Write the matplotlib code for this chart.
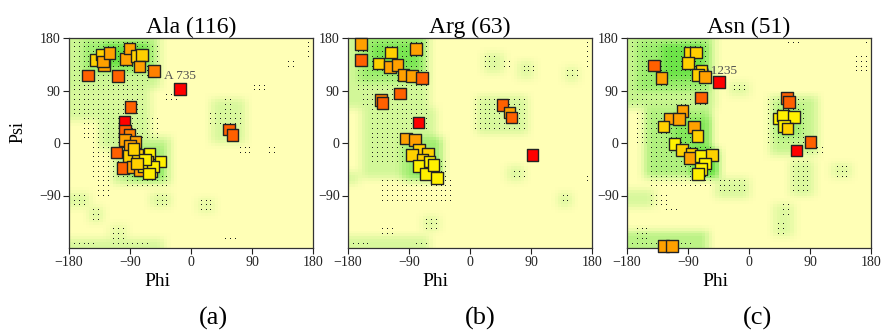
import numpy as np
import matplotlib.pyplot as plt
from matplotlib.colors import LinearSegmentedColormap

plt.rcParams['font.family'] = ['Liberation Serif', 'DejaVu Serif']

titles = ['Ala (116)', 'Arg (63)', 'Asn (51)']
captions = ['(a)', '(b)', '(c)']
ticks = [-180, -90, 0, 90, 180]

# colour codes of the squares
colours = {'y': '#FFF000', 'g': '#FFD000', 'o': '#FFA000', 'm': '#FF8000',
           'd': '#FF6000', 'r': '#FF0000'}

ala_phi = [-152, -141, -132, -128, -130, -120, -108, -96, -91, -80, -72, -76, -55, -16,
           -89, -98, -97, -91, -97, -82, -90, -110, -92, -79, -85, -61, -45, -100, -86,
           -75, -58, -65, -70, -56, -68, -62, -80, 56, 61]
ala_psi = [116, 142, 152, 133, 140, 154, 115, 144, 162, 149, 151, 131, 123, 93,
           62, 37, 21, 14, 5, 2, -5, -16, -22, -21, -10, -18, -32, -43, -41,
           -46, -49, -32, -40, -40, -28, -52, -35, 23, 14]
ala_col = ['d', 'g', 'g', 'o', 'o', 'o', 'd', 'o', 'o', 'g', 'g', 'o', 'm', 'r',
           'd', 'r', 'd', 'm', 'o', 'o', 'o', 'd', 'g', 'g', 'g', 'y', 'y', 'd', 'o',
           'o', 'y', 'g', 'y', 'y', 'y', 'y', 'g', 'd', 'd']

arg_phi = [-161, -161, -135, -117, -118, -107, -98, -86, -80, -71, -103, -131, -129, -76,
           -94, -81, -75, -86, -62, -70, -60, -76, -65, -49, -54, 48, 58, 61, 92]
arg_psi = [170, 142, 136, 155, 130, 134, 117, 115, 161, 111, 85, 74, 69, 35,
           8, 5, -11, -21, -18, -28, -32, -39, -53, -60, -38, 65, 52, 44, -21]
arg_col = ['o', 'd', 'g', 'g', 'o', 'o', 'o', 'o', 'o', 'd', 'd', 'm', 'd', 'r',
           'o', 'o', 'g', 'g', 'g', 'g', 'y', 'y', 'y', 'y', 'y', 'd', 'o', 'd', 'r']

asn_phi = [-140, -129, -88, -78, -90, -70, -75, -65, -44, -71, -98, -117, -103, -126,
           -81, -76, -110, -99, -85, -87, -71, -55, -65, -71, -75, -126, -114,
           56, 59, 44, 50, 66, 52, 57, 91, 70]
asn_psi = [133, 111, 155, 155, 137, 124, 117, 113, 105, 78, 55, 42, 41, 28,
           27, 12, -2, -12, -19, -26, -22, -21, -35, -45, -53, -177, -177,
           77, 70, 42, 47, 45, 29, 25, 2, -13]
asn_col = ['d', 'o', 'g', 'g', 'g', 'g', 'g', 'o', 'r', 'd', 'o', 'o', 'o', 'g',
           'o', 'g', 'y', 'g', 'g', 'o', 'y', 'g', 'y', 'y', 'y', 'o', 'o',
           'd', 'd', 'y', 'y', 'y', 'y', 'g', 'd', 'r']

labels = [('A 735', -40, 115), None, ('A1235', -70, 124)]

# green shading: phi0, phi1, psi0, psi1, level
ala_green = [(-178, -45, 95, 178, 1.2), (-160, -55, 118, 175, 2), (-130, -65, 130, 170, 3),
             (-178, -60, 40, 95, 1), (-135, -60, -10, 60, 1.1), (-115, -30, -70, 10, 1.3),
             (-95, -40, -65, -5, 2), (-80, -45, -60, -30, 3), (30, 80, 0, 75, 1),
             (-178, -40, -180, -165, 1), (-178, -150, -112, -85, 0.8),
             (-152, -128, -136, -110, 0.8), (-58, -30, -110, -85, 0.8),
             (10, 35, -122, -95, 0.6), (-120, -95, -168, -142, 0.6)]
arg_green = [(-178, -60, 60, 178, 1.1), (-165, -65, 105, 178, 2), (-145, -75, 125, 172, 2.7),
             (-160, -50, -60, 60, 1.1), (-100, -40, -65, 10, 2), (-80, -50, -55, -25, 3),
             (10, 85, 15, 78, 1), (-178, -60, -180, -160, 1), (-178, -165, -72, -50, 1),
             (128, 152, -110, -85, 0.8), (55, 82, -65, -40, 0.8), (18, 52, 120, 155, 0.8),
             (70, 95, 112, 138, 0.7), (138, 162, 104, 128, 0.7), (-72, -45, -152, -125, 0.7)]
asn_green = [(-178, -50, 60, 178, 1.3), (-165, -60, 90, 175, 2.1), (-130, -65, 110, 170, 2.9),
             (-155, -55, -60, 60, 1.7), (-115, -55, -10, 45, 2.5), (-85, -45, -60, -10, 3.2),
             (28, 100, -20, 78, 1.3), (40, 75, 10, 60, 2.1), (-178, -60, -180, -150, 1.5),
             (-178, -140, -112, -80, 1), (36, 64, -162, -104, 0.8), (58, 95, -92, -28, 0.9),
             (-52, 0, -95, -60, 0.9), (-30, 0, 82, 105, 0.7), (120, 148, -60, -36, 0.7)]

# dotted areas: phi0, phi1, psi0, psi1
ala_dots = [(-176, -60, 100, 176), (-176, -70, 45, 100), (-60, -45, 115, 165),
            (-160, -50, 5, 45), (-150, -100, -60, 5), (-100, -30, -75, -55),
            (-140, -118, -92, -40), (-176, -158, -110, -88), (-150, -130, -133, -113),
            (-118, -98, -167, -145), (-176, -140, -176, -168), (-118, -60, -176, -168),
            (-56, -34, -107, -88), (13, 30, -118, -97), (50, 70, -170, -162), (44, 58, 55, 78),
            (28, 72, 28, 50), (68, 88, -20, -3), (108, 126, -20, -3), (90, 110, 85, 102),
            (140, 158, 125, 142), (-38, -20, 68, 86), (170, 180, 140, 172)]
arg_dots = [(-172, -64, 90, 176), (-160, -64, 60, 90), (-150, -95, -40, 60), (-95, -64, 20, 60),
            (-133, -25, -103, -58), (-70, -48, -150, -128), (-134, -114, -164, -146),
            (-176, -150, -176, -168), (-84, -62, -176, -168), (-60, -30, -75, -30),
            (20, 40, 130, 152), (48, 62, 130, 140), (74, 94, 116, 135), (140, 160, 107, 126),
            (172, 178, 130, 172), (0, 85, 20, 74), (58, 80, -60, -42), (130, 150, -106, -88),
            (172, 178, -70, -50)]
asn_dots = [(-176, -58, 62, 176), (-166, -67, -6, 57), (-151, -53, -75, -6), (-48, -3, -90, -62),
            (-151, -117, -109, -83), (-124, -104, -123, -112), (-166, -146, -166, -146),
            (-176, -80, -176, -168), (51, 75, 165, 174), (28, 85, -5, 74), (85, 110, -23, -5),
            (60, 90, -90, -26), (124, 144, -58, -38), (46, 60, -126, -106), (36, 51, -160, -138),
            (-28, -3, 85, 102), (156, 176, 117, 150), (172, 178, 165, 176)]

panels = [(ala_phi, ala_psi, ala_col, ala_green, ala_dots),
          (arg_phi, arg_psi, arg_col, arg_green, arg_dots),
          (asn_phi, asn_psi, asn_col, asn_green, asn_dots)]

shade = LinearSegmentedColormap.from_list('rama', ['#FFFFB6', '#D8F89C', '#A2EE72', '#68E244'])


def greenField(regions):
    cells = np.arange(-177.5, 180, 5)
    gx, gy = np.meshgrid(cells, cells)
    field = np.zeros_like(gx)
    for p0, p1, s0, s1, level in regions:
        inside = (gx >= p0) & (gx <= p1) & (gy >= s0) & (gy <= s1)
        field = np.where(inside, np.maximum(field, level), field)
    for _ in range(2):
        pad = np.pad(field, 1, mode='edge')
        field = sum(pad[i:i + 72, j:j + 72] for i in range(3) for j in range(3)) / 9.0
    return field


def dotPoints(regions):
    gx, gy = np.meshgrid(np.arange(-173, 180, 7.2), np.arange(172, -180, -8.2))
    keep = np.zeros(gx.shape, dtype=bool)
    for p0, p1, s0, s1 in regions:
        keep |= (gx >= p0) & (gx <= p1) & (gy >= s0) & (gy <= s1)
    return gx[keep], gy[keep]


fig = plt.figure(figsize=(8.85, 3.3), dpi=100)
lefts = [69, 348, 627]
phi_x = [157, 435, 715]
cap_x = [213, 480, 758]

for k, (phi, psi, col, green, dots) in enumerate(panels):
    ax = fig.add_axes([lefts[k] / 885, 82 / 330, 244 / 885, 210 / 330])
    ax.imshow(greenField(green), cmap=shade, vmin=0, vmax=3, origin='lower',
              extent=[-180, 180, -180, 180], interpolation='nearest', aspect='auto', zorder=0)
    dx, dy = dotPoints(dots)
    ax.plot(dx, dy, ',', color='#1e1e1e', zorder=1)
    if labels[k]:
        txt, lx, ly = labels[k]
        ax.text(lx, ly, txt, fontsize=9.5, color='#505050', va='center', ha='left', zorder=2)
    ax.scatter(phi, psi, s=70, marker='s', c=[colours[c] for c in col],
               edgecolors='#222222', linewidths=1.0, zorder=3, clip_on=False)
    ax.set_xlim(-180, 180)
    ax.set_ylim(-180, 180)
    ax.set_xticks(ticks)
    ax.set_yticks([180, 90, 0, -90])
    ax.tick_params(direction='out', length=4, width=0.8, labelsize=10, pad=2,
                   colors='#222222')
    for sp in ax.spines.values():
        sp.set_linewidth(0.9)
        sp.set_color('#333333')
    ax.set_title(titles[k], fontsize=17, pad=3)
    fig.text(phi_x[k] / 885, 1 - 281 / 330, 'Phi', fontsize=14, ha='center', va='center')
    fig.text(cap_x[k] / 885, 1 - 318 / 330, captions[k], fontsize=19, ha='center', va='center')

fig.text(18 / 885, 1 - 132 / 330, 'Psi', fontsize=13, rotation=90, ha='center', va='center')

fig.savefig('out.png', dpi=100)
